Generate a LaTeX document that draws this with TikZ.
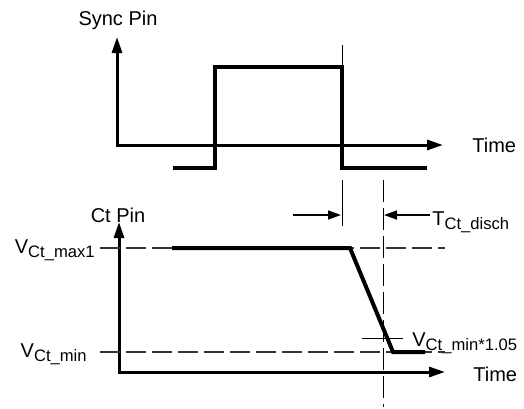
\documentclass[tikz,border=0pt]{standalone}
\usepackage{fontspec}
\setmainfont{Liberation Sans}
\usetikzlibrary{arrows.meta}
\newcommand{\lowsub}[1]{\raisebox{-0.45ex}{\fontsize{8.3}{9}\selectfont #1}}

\begin{document}
\begin{tikzpicture}[x=0.5pt, y=-0.5pt,
  axis/.style={line width=1.5pt, {Triangle[length=8pt,width=5pt]}-{Triangle[length=8pt,width=5pt]}},
  signal/.style={line width=2pt},
  level/.style={line width=0.6pt, black!80, dash pattern=on 10pt off 3pt},
  guide/.style={line width=0.5pt},
  span/.style={line width=0.8pt, -{Triangle[length=6.5pt,width=4.5pt]}},
  lbl/.style={font=\fontsize{10}{12}\selectfont, inner sep=0pt}
]
  \useasboundingbox (0,0) rectangle (524,408);

  % sync pin
  \coordinate (sy) at (117,37);
  \coordinate (so) at (117,145);
  \coordinate (sx) at (443,145);
  \draw[axis] (sy) -- (so) -- (sx);
  \node[lbl, anchor=base] (sync) at (118,25) {Sync Pin};
  \node[lbl, anchor=west] (stime) at (472,145) {Time};
  \draw[signal] (173,168) -- (215,168) -- (215,67) -- (342,67) -- (342,168) -- (427,168);

  % guides
  \coordinate (ga) at (342,45);
  \coordinate (gb) at (342,226);
  \coordinate (gc) at (383,180);
  \coordinate (gd) at (383,407);
  \draw[guide, dash pattern=on 62.5pt off 5pt on 23pt] (ga) -- (gb);
  \draw[guide, dash pattern=on 11pt off 3pt] (gc) -- (gd);

  % ct pin
  \coordinate (cy) at (119,222);
  \coordinate (co) at (119,372);
  \coordinate (cx) at (445,372);
  \draw[axis] (cy) -- (co) -- (cx);
  \node[lbl] (ctpin) at (118,215) {Ct Pin};
  \node[lbl, anchor=west] (ctime) at (473,374) {Time};

  \node[lbl, anchor=base east] (vmax) at (95,253) {V\lowsub{Ct\_max1}};
  \node[lbl, anchor=base east] (vmin) at (87,357) {V\lowsub{Ct\_min}};
  \node[lbl, anchor=base west] (vmid) at (412,346) {V\lowsub{Ct\_min*1.05}};
  \node[lbl, anchor=base west] (tdis) at (432,225) {T\lowsub{Ct\_disch}};

  \draw[level] (100,248) -- (445,248);
  \draw[level] (100,352) -- (445,352);
  \draw[guide] (362,338) -- (403,338);
  \draw[signal] (172,248) -- (350,248) -- (393,352) -- (425,352);

  % discharge time
  \draw[span] (293,215) -- (341,215);
  \draw[span] (430,215) -- (384,215);
\end{tikzpicture}
\end{document}
